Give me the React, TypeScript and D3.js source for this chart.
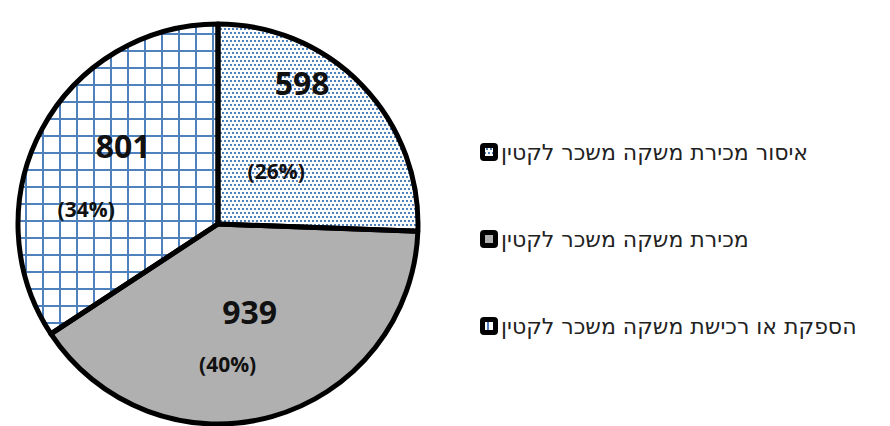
import { useMemo } from "react";
import * as d3 from "d3";

const WIDTH = 890;
const HEIGHT = 426;

// slices, clockwise from 12 o'clock
const categories = [
    "איסור מכירת משקה משכר לקטין",
    "מכירת משקה משכר לקטין",
    "הספקת או רכישת משקה משכר לקטין",
];
const values = [598, 939, 801];
const percents = ["(26%)", "(40%)", "(34%)"];

const PIE = { cx: 218, cy: 224, r: 200 };
const BLUE = "#4f81bd";
const GRAY = "#b0b0b0";
const FILLS = ["url(#dots)", GRAY, "url(#grid)"];
// hand-tuned nudges off the arc centroid (like Excel's dragged labels)
const VALUE_NUDGE = [
    [5, -53],
    [2, -6],
    [2, -14],
];
const PCT_NUDGE = [
    [-21, 31],
    [-20, 42],
    [-35, 45],
];

const FONT = "'Open Sans', 'DejaVu Sans', sans-serif";
const LEGEND_FONT = "'DejaVu Sans', sans-serif";

export default function App() {
    const arcs = useMemo(() => {
        const pie = d3
            .pie<number>()
            .sort(null)
            .value((d) => d);
        return pie(values);
    }, []);

    const arcGen = d3.arc<d3.PieArcDatum<number>>().innerRadius(0).outerRadius(PIE.r);
    const labelArc = d3
        .arc<d3.PieArcDatum<number>>()
        .innerRadius(PIE.r * 0.55)
        .outerRadius(PIE.r * 0.55);

    const legendY = d3
        .scalePoint<string>()
        .domain(categories)
        .range([152, 326]);

    const slices = arcs.map((a, i) => (
        <path key={i} d={arcGen(a) ?? ""} fill={FILLS[i]} stroke="none" />
    ));

    const borders = arcs.map((a, i) => (
        <path
            key={i}
            d={arcGen(a) ?? ""}
            fill="none"
            stroke="#000"
            strokeWidth={5}
            strokeLinejoin="round"
        />
    ));

    const labels = arcs.map((a, i) => {
        const [x, y] = labelArc.centroid(a);
        return (
            <g key={i} fontFamily={FONT} fontWeight="bold" fill="#111" textAnchor="middle">
                <text x={x + VALUE_NUDGE[i][0]} y={y + VALUE_NUDGE[i][1]} fontSize={32}>
                    {values[i]}
                </text>
                <text x={x + PCT_NUDGE[i][0]} y={y + PCT_NUDGE[i][1]} fontSize={21}>
                    {percents[i]}
                </text>
            </g>
        );
    });

    const legend = categories.map((c, i) => {
        const y = legendY(c) ?? 0;
        return (
            <g key={i}>
                <rect x={480} y={y - 9} width={18} height={18} rx={4} fill="#000" />
                <rect x={485} y={y - 4} width={8} height={8} fill="#fff" />
                <rect x={485} y={y - 4} width={8} height={8} fill={FILLS[i]} />
                <text
                    x={501}
                    y={y}
                    dy="0.35em"
                    fontSize={22}
                    fontFamily={LEGEND_FONT}
                    fill="#222"
                    direction="rtl"
                    textAnchor="end"
                >
                    {c}
                </text>
            </g>
        );
    });

    return (
        <svg
            width={WIDTH}
            height={HEIGHT}
            style={{ position: "absolute", left: 0, top: 0, background: "#fff" }}
        >
            <defs>
                <pattern id="dots" patternUnits="userSpaceOnUse" width={4} height={8}>
                    <rect width={4} height={8} fill="#fff" />
                    <rect x={0} y={0} width={2} height={2} fill={BLUE} />
                    <rect x={2} y={4} width={2} height={2} fill={BLUE} />
                </pattern>
                <pattern
                    id="grid"
                    patternUnits="userSpaceOnUse"
                    width={17}
                    height={17}
                    x={11}
                    y={13}
                >
                    <rect width={17} height={17} fill="#fff" />
                    <rect x={0} y={0} width={2} height={17} fill={BLUE} />
                    <rect x={0} y={0} width={17} height={2} fill={BLUE} />
                </pattern>
            </defs>
            <g transform={`translate(${PIE.cx},${PIE.cy})`}>
                {slices}
                {borders}
                {labels}
            </g>
            {legend}
        </svg>
    );
}
